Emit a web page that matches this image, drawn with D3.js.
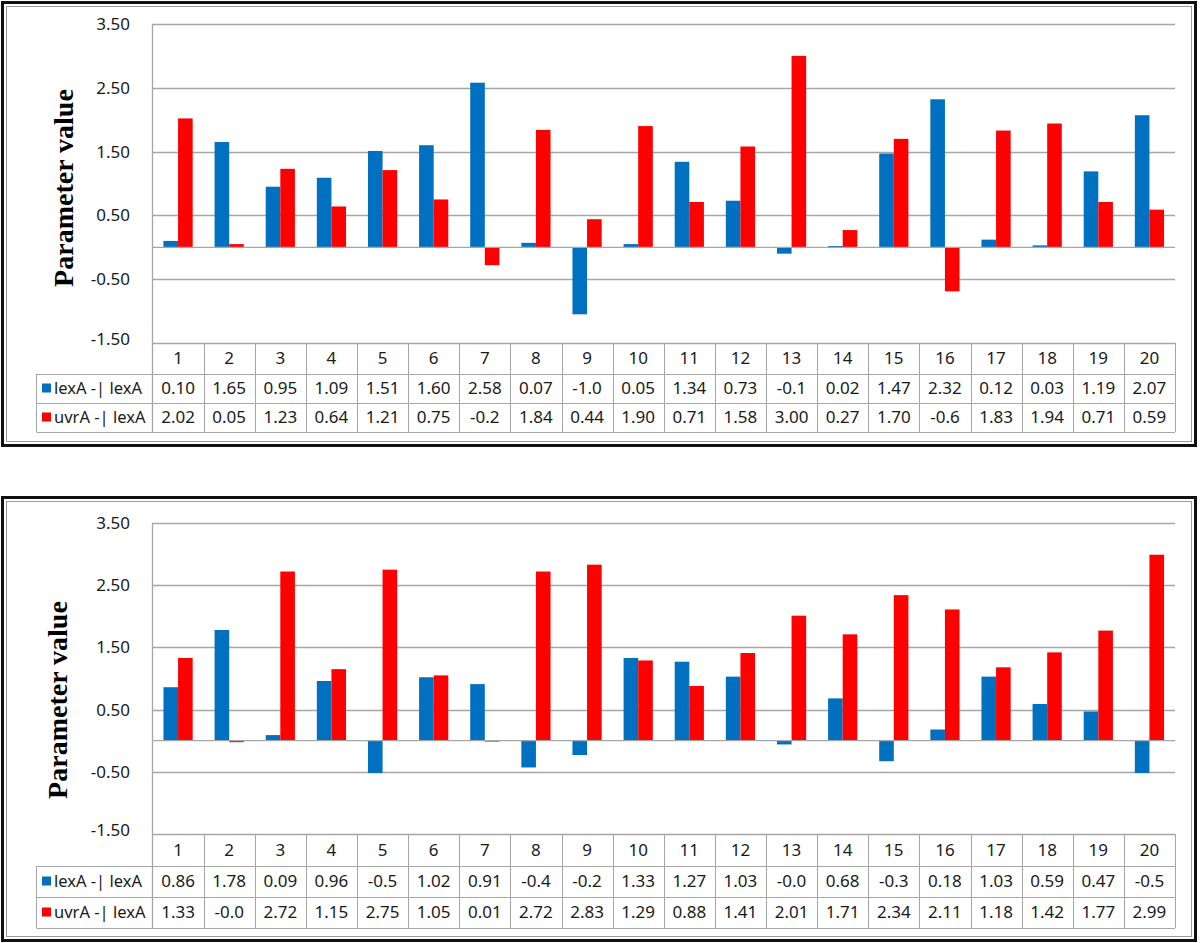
<!DOCTYPE html>
<html>
<head>
<meta charset="utf-8">
<script src="https://cdn.jsdelivr.net/npm/d3@7"></script>
<style>
  body { margin: 0; background: #fff; }
  svg { display: block; }
</style>
</head>
<body>
<div id="chart"></div>
<script>
// categories and tick values
const categories = d3.range(1, 21);
const yTicks = [-1.5, -0.5, 0.5, 1.5, 2.5, 3.5];
const seriesNames = ['lexA -| lexA', 'uvrA -| lexA'];

// top panel
const top_lexA = [0.10, 1.65, 0.95, 1.09, 1.51, 1.60, 2.58, 0.07, -1.05, 0.05,
                  1.34, 0.73, -0.10, 0.02, 1.47, 2.32, 0.12, 0.03, 1.19, 2.07];
const top_uvrA = [2.02, 0.05, 1.23, 0.64, 1.21, 0.75, -0.28, 1.84, 0.44, 1.90,
                  0.71, 1.58, 3.00, 0.27, 1.70, -0.69, 1.83, 1.94, 0.71, 0.59];

// bottom panel
const bot_lexA = [0.86, 1.78, 0.09, 0.96, -0.52, 1.02, 0.91, -0.43, -0.23, 1.33,
                  1.27, 1.03, -0.06, 0.68, -0.33, 0.18, 1.03, 0.59, 0.47, -0.52];
const bot_uvrA = [1.33, -0.02, 2.72, 1.15, 2.75, 1.05, 0.01, 2.72, 2.83, 1.29,
                  0.88, 1.41, 2.01, 1.71, 2.34, 2.11, 1.18, 1.42, 1.77, 2.99];

const colors = ['#0070C0', '#FF0000'];
const gridColor = '#A6A6A6';
const tickFont = '"Noto Sans", "Open Sans", sans-serif';

// excel-like 4 char label: negatives lose a decimal
const fmt = v => v < 0 ? '-' + (Math.floor(-v * 10 + 1e-9) / 10).toFixed(1) : v.toFixed(2);

const svg = d3.select('#chart').append('svg')
  .attr('width', 1200)
  .attr('height', 943);

function drawPanel(p, s1, s2) {
  const g = svg.append('g');

  // double frame
  g.append('rect')
    .attr('x', 2.5).attr('y', p.frameTop + 0.5)
    .attr('width', 1193).attr('height', p.frameBottom - p.frameTop)
    .attr('fill', '#fff').attr('stroke', '#111').attr('stroke-width', 3);
  g.append('rect')
    .attr('x', 6.5).attr('y', p.frameTop + 4.5)
    .attr('width', 1185).attr('height', p.frameBottom - p.frameTop - 8)
    .attr('fill', 'none').attr('stroke', '#9a9a9a').attr('stroke-width', 1);

  const x = d3.scaleBand().domain(categories).range([152.5, 1175]).padding(0);
  const y = d3.scaleLinear().domain([-1.5, 3.5]).range([p.plotBottom, p.plotTop]);
  const bw = 14.6;

  // gridlines
  g.selectAll('.grid').data(yTicks).enter().append('line')
    .attr('x1', 152.5).attr('x2', 1175)
    .attr('y1', d => Math.round(y(d)) + 0.5).attr('y2', d => Math.round(y(d)) + 0.5)
    .attr('stroke', gridColor).attr('stroke-width', 1.3);

  // tick labels
  g.selectAll('.tick').data(yTicks).enter().append('text')
    .attr('x', 130).attr('y', d => y(d))
    .attr('dy', d => d === -1.5 ? '0.1em' : '0.35em')
    .attr('text-anchor', 'end')
    .style('font-family', tickFont).style('font-size', '17px').style('fill', '#1a1a1a')
    .text(d => d.toFixed(2));

  // bars
  [s1, s2].forEach((vals, si) => {
    g.selectAll('.bar' + si).data(vals).enter().append('rect')
      .attr('x', (d, i) => x(categories[i]) + x.bandwidth() / 2 - bw + si * bw)
      .attr('y', d => y(Math.max(0, d)))
      .attr('width', bw)
      .attr('height', d => Math.max(1.5, Math.abs(y(d) - y(0))))
      .attr('fill', colors[si]);
  });

  // zero axis line
  g.append('line')
    .attr('x1', 152.5).attr('x2', 1175)
    .attr('y1', y(0)).attr('y2', y(0))
    .attr('stroke', gridColor).attr('stroke-width', 1.3);

  // vertical axis line
  g.append('line')
    .attr('x1', 152.5).attr('x2', 152.5)
    .attr('y1', p.plotTop).attr('y2', p.rows[3])
    .attr('stroke', gridColor).attr('stroke-width', 1.3);

  // y title
  g.append('text')
    .attr('transform', `translate(${p.titleX},${p.titleY}) rotate(-90)`)
    .attr('text-anchor', 'middle')
    .style('font-family', '"Liberation Serif", "Times New Roman", serif')
    .style('font-weight', 'bold').style('font-size', '28px')
    .text('Parameter value');

  // data table
  const tbl = g.append('g');
  const rows = p.rows;
  tbl.append('line').attr('x1', 36.5).attr('x2', 1175).attr('y1', rows[1] + 0.5).attr('y2', rows[1] + 0.5);
  tbl.append('line').attr('x1', 36.5).attr('x2', 1175).attr('y1', rows[2] + 0.5).attr('y2', rows[2] + 0.5);
  tbl.append('line').attr('x1', 36.5).attr('x2', 1175).attr('y1', rows[3] + 0.5).attr('y2', rows[3] + 0.5);
  tbl.append('line').attr('x1', 36.5).attr('x2', 36.5).attr('y1', rows[1]).attr('y2', rows[3]);
  tbl.selectAll('.col').data(categories).enter().append('line')
    .attr('x1', d => Math.round(x(d) + x.bandwidth()) + 0.5)
    .attr('x2', d => Math.round(x(d) + x.bandwidth()) + 0.5)
    .attr('y1', rows[0]).attr('y2', rows[3]);
  tbl.selectAll('line').attr('stroke', gridColor).attr('stroke-width', 1);

  const textStyle = sel => sel
    .style('font-family', tickFont).style('font-size', '17px').style('fill', '#1a1a1a');

  tbl.selectAll('.hdr').data(categories).enter().append('text')
    .attr('x', d => x(d) + x.bandwidth() / 2)
    .attr('y', (rows[0] + rows[1]) / 2).attr('dy', '0.35em')
    .attr('text-anchor', 'middle')
    .call(textStyle)
    .text(d => d);

  [s1, s2].forEach((vals, si) => {
    const cy = (rows[si + 1] + rows[si + 2]) / 2;
    tbl.append('rect')
      .attr('x', 42).attr('y', cy - 5)
      .attr('width', 9).attr('height', 9)
      .attr('fill', colors[si]);
    tbl.append('text')
      .attr('x', 54).attr('y', cy).attr('dy', '0.35em')
      .call(textStyle)
      .style('font-size', '16.5px')
      .text(seriesNames[si]);
    tbl.selectAll('.val' + si).data(vals).enter().append('text')
      .attr('x', (d, i) => x(categories[i]) + x.bandwidth() / 2)
      .attr('y', cy).attr('dy', '0.35em')
      .attr('text-anchor', 'middle')
      .call(textStyle)
      .text(d => fmt(d));
  });
}

drawPanel({
  frameTop: 2, frameBottom: 445,
  plotTop: 24, plotBottom: 343,
  rows: [343, 374, 403, 432],
  titleX: 73, titleY: 188
}, top_lexA, top_uvrA);

drawPanel({
  frameTop: 497, frameBottom: 940,
  plotTop: 523, plotBottom: 834,
  rows: [834, 866, 897, 928],
  titleX: 67, titleY: 700
}, bot_lexA, bot_uvrA);
</script>
</body>
</html>
